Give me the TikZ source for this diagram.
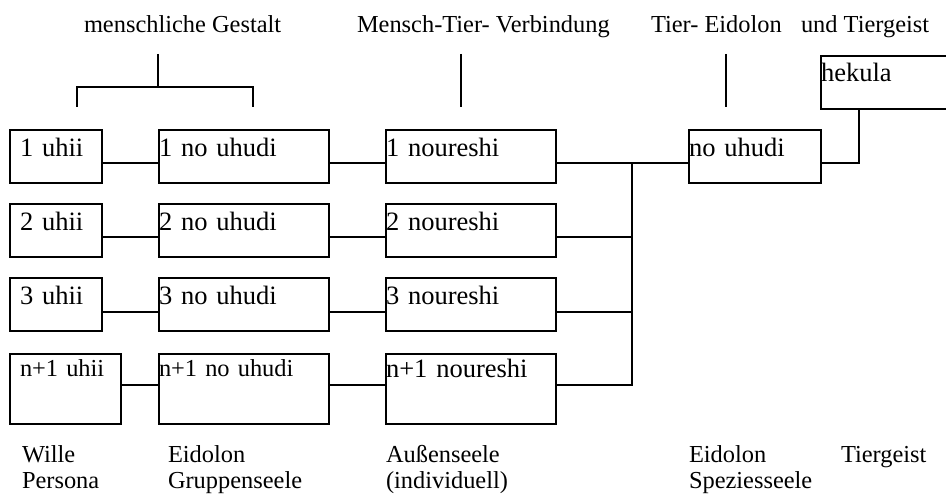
\documentclass[tikz,border=0pt]{standalone}
\usepackage{fontspec}
\setmainfont{Liberation Serif}
\begin{document}
\begin{tikzpicture}[x=1pt,y=-1pt,line width=2pt,
  bigtxt/.style={font=\fontsize{26.5}{30}\selectfont},
  smalltxt/.style={font=\fontsize{24.4}{26.5}\selectfont},
  % a framed cell: width, baseline depth below the top, remaining depth
  cell/.style n args={3}{draw, anchor=north west, inner sep=0pt, align=left,
    text width=#1pt, text height=#2pt, text depth=#3pt, bigtxt},
  caption/.style={anchor=base west, inner sep=0pt, align=left, smalltxt},
  indent/.style={execute at begin node=\hspace*{#1pt}}]
\useasboundingbox (0,0) rectangle (946,495);

% headings
\node[caption] (hmensch) at (83,33) {menschliche Gestalt};
\node[caption] (hverb)   at (356,33) {Mensch-Tier- Verbindung};
\node[caption] (htier)   at (650,33) {Tier- Eidolon};
\node[caption] (hgeist)  at (800,33) {und Tiergeist};

% column 1: uhii
\node[cell={92}{26}{27},indent=10] (u1) at (9,129) {1 uhii};
\node[cell={92}{26}{27},indent=10] (u2) at (9,203) {2 uhii};
\node[cell={92}{26}{27},indent=10] (u3) at (9,277) {3 uhii};
\node[cell={111}{22.5}{47.5},indent=10,smalltxt] (u4) at (9,352.5) {n+1 uhii};

% column 2: no uhudi
\node[cell={170}{26}{27}] (n1) at (158,129) {1 no uhudi};
\node[cell={170}{26}{27}] (n2) at (158,203) {2 no uhudi};
\node[cell={170}{26}{27}] (n3) at (158,277) {3 no uhudi};
\node[cell={170}{22.5}{47.5},smalltxt] (n4) at (158,352.5) {n+1 no uhudi};

% column 3: noureshi
\node[cell={170}{26}{27}] (r1) at (385,129) {1 noureshi};
\node[cell={170}{26}{27}] (r2) at (385,203) {2 noureshi};
\node[cell={170}{26}{27}] (r3) at (385,277) {3 noureshi};
\node[cell={170}{24}{46}] (r4) at (385,352.5) {n+1 noureshi};

% species level and spirit
\node[cell={132}{26}{27}] (nu) at (688,129) {no uhudi};
\node[cell={170}{26}{27}] (hk) at (820,55) {hekula};

% bracket over the human columns
\coordinate (bl) at (77,107);
\coordinate (br) at (253,107);
\coordinate (bs) at (158,54);
\draw (bl) -- (77,87) -- (253,87) -- (br);
\draw (bs) -- (158,87);

% heading ticks
\coordinate (t1a) at (461,54); \coordinate (t1b) at (461,107);
\coordinate (t2a) at (726,54); \coordinate (t2b) at (726,107);
\draw (t1a) -- (t1b);
\draw (t2a) -- (t2b);

% row links
\draw ([yshift=-6.5pt]u1.east) -- ([yshift=-6.5pt]n1.west);
\draw ([yshift=-6.5pt]n1.east) -- ([yshift=-6.5pt]r1.west);
\draw ([yshift=-6.5pt]u2.east) -- ([yshift=-6.5pt]n2.west);
\draw ([yshift=-6.5pt]n2.east) -- ([yshift=-6.5pt]r2.west);
\draw ([yshift=-7.5pt]u3.east) -- ([yshift=-7.5pt]n3.west);
\draw ([yshift=-7.5pt]n3.east) -- ([yshift=-7.5pt]r3.west);
\draw ([yshift=3.5pt]u4.east) -- ([yshift=3.5pt]n4.west);
\draw ([yshift=3.5pt]n4.east) -- ([yshift=3.5pt]r4.west);

% collecting bus
\coordinate (bus) at (632,162);
\draw ([yshift=-6.5pt]r1.east) -- ([yshift=-6.5pt]nu.west);
\draw ([yshift=3.5pt]r4.east) -| (bus);
\draw ([yshift=-6.5pt]r2.east) -| (bus);
\draw ([yshift=-7.5pt]r3.east) -| (bus);

% link up to hekula
\draw ([yshift=-6.5pt]nu.east) -| ([xshift=39pt]hk.south west);

% captions below (base anchor sits on the last line)
\node[caption] (cwille) at (21,488.5) {Wille\\Persona};
\node[caption] (ceido)  at (167,488.5) {Eidolon\\Gruppenseele};
\node[caption] (caus)   at (385,488.5) {Außenseele\\(individuell)};
\node[caption] (cspez)  at (688,488.5) {Eidolon\\Speziesseele};
\node[caption] (ctier)  at (840,462) {Tiergeist};
\end{tikzpicture}
\end{document}
